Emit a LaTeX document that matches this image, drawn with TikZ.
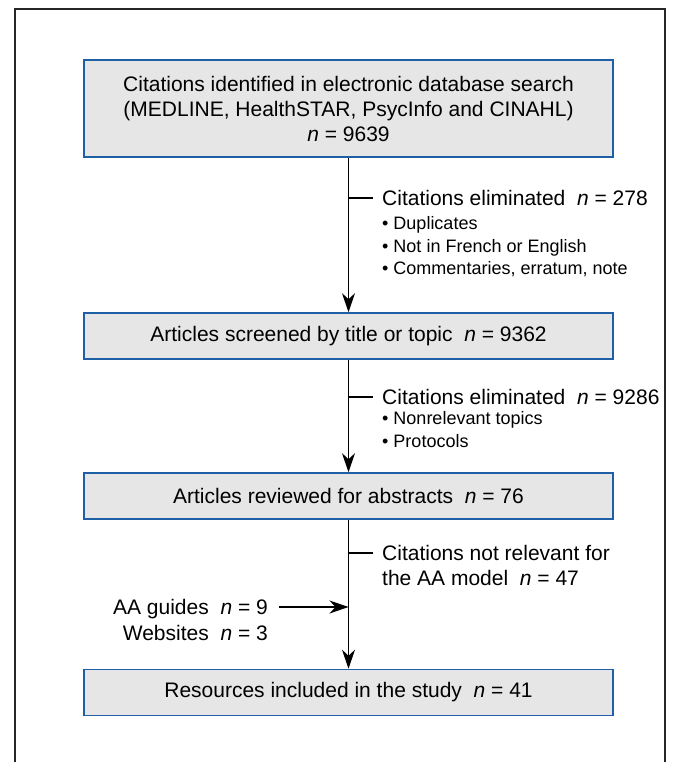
\documentclass[tikz,border=0pt]{standalone}
\usepackage{fontspec}
\setmainfont{Liberation Sans}
\usepackage{tikz}
\usetikzlibrary{arrows.meta,positioning}

\definecolor{boxblue}{HTML}{1F5FA5}
\definecolor{boxgray}{HTML}{E6E6E6}
\definecolor{framegray}{HTML}{262626}

\tikzset{
  stage/.style={draw=boxblue,fill=boxgray,line width=1.6pt,minimum width=529pt,
    minimum height=46pt,inner sep=0pt,align=center,font=\fontsize{21}{25}\selectfont},
  remark/.style={anchor=west,inner sep=0pt,text height=15pt,text depth=0pt,
    font=\fontsize{21}{25}\selectfont},
  bulletline/.style={anchor=west,inner sep=0pt,text height=13pt,text depth=0pt,
    font=\fontsize{18}{22}\selectfont},
  flow/.style={line width=1.2pt,-{Stealth[length=19pt,width=13pt,inset=6pt]}},
  tick/.style={line width=1.2pt}
}

\begin{document}
\begin{tikzpicture}[x=1pt,y=-1pt]
\useasboundingbox (0,0) rectangle (676,762);
%\draw[step=50pt,gray,very thin] (0,0) grid (676,762);
\draw[framegray,line width=1.5pt] (15,762) -- (15,9) -- (665,9) -- (665,762);%%
% the four stages
\draw (348.5,108.5) node[stage,minimum height=97pt] (search) {Citations identified in electronic database search\\(MEDLINE, HealthSTAR, PsycInfo and CINAHL)\\\textit{n} = 9639};%%
\draw (348.5,336) node[stage] (screen) {Articles screened by title or topic~~\textit{n} = 9362};%%
\draw (348.5,496) node[stage] (review) {Articles reviewed for abstracts~~\textit{n} = 76};%%
\draw (348.5,692.5) node[stage] (result) {Resources included in the study~~\textit{n} = 41};%%
% eliminated citations
\draw (382,198) node[remark] (elimA) {Citations eliminated~~\textit{n} = 278};%%
\draw (382,223) node[bulletline] (elimAa) {• Duplicates};%%
\draw (382,246) node[bulletline] (elimAb) {• Not in French or English};%%
\draw (382,268) node[bulletline] (elimAc) {• Commentaries, erratum, note};%%
\draw (382,397) node[remark] (elimB) {Citations eliminated~~\textit{n} = 9286};%%
\draw (382,418) node[bulletline] (elimBa) {• Nonrelevant topics};%%
\draw (382,441) node[bulletline] (elimBb) {• Protocols};%%
\draw (382,553) node[remark] (notrel) {Citations not relevant for};%%
\draw (382,578) node[remark] (notrelb) {the AA model~~\textit{n} = 47};%%
% added resources
\draw (268,607) node[remark,anchor=east] (guides) {AA guides~~\textit{n} = 9};%%
\draw (268,633) node[remark,anchor=east] (sites) {Websites~~\textit{n} = 3};%%
% connectors
\draw[flow] (search) -- (screen);%%
\draw[flow] (screen) -- (review);%%
\draw[flow] (review) -- (result);%%
\draw[tick] (search.south |- elimA.west) -- ([xshift=-9pt]elimA.west);%%
\draw[tick] (screen.south |- elimB.west) -- ([xshift=-9pt]elimB.west);%%
\draw[tick] (review.south |- notrel.west) -- ([xshift=-9pt]notrel.west);%%
\draw[flow] ([xshift=11pt]guides.east) -- (review.south |- guides.east);%%
\end{tikzpicture}
\end{document}
